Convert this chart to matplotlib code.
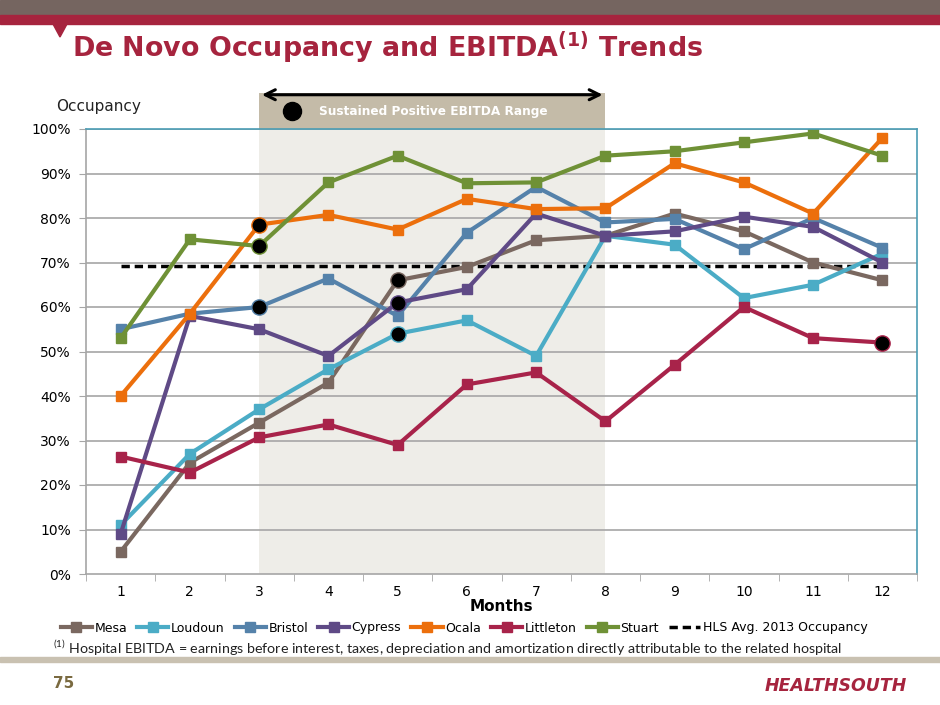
import matplotlib
matplotlib.use("Agg")
import matplotlib.pyplot as plt
from matplotlib.lines import Line2D
from matplotlib.patches import Rectangle, Polygon

months = ["1", "2", "3", "4", "5", "6", "7", "8", "9", "10", "11", "12"]

mesa = [5, 25, 34, 43, 66, 69, 75, 76, 81, 77, 70, 66]
loudoun = [11, 27, 37, 46, 54, 57, 49, 76, 74, 62, 65, 72]
bristol = [55, 58.5, 60, 66.4, 58, 76.7, 87, 79, 79.8, 73, 80, 73.3]
cypress = [9, 58, 55, 49, 61, 64, 81, 76, 77, 80.3, 78, 70]
ocala = [40, 58.5, 78.5, 80.7, 77.4, 84.3, 82, 82.2, 92.3, 88, 81, 98]
littleton = [26.4, 22.8, 30.7, 33.6, 29, 42.6, 45.3, 34.3, 47, 60, 53, 52]
stuart = [53, 75.2, 73.7, 88, 94, 87.8, 88, 94, 95, 97, 99, 94]
hls_avg = 69.3

series = [
    ("Mesa", mesa, "#7a6860"),
    ("Loudoun", loudoun, "#4bacc6"),
    ("Bristol", bristol, "#5582aa"),
    ("Cypress", cypress, "#5f4a86"),
    ("Ocala", ocala, "#ec6f0c"),
    ("Littleton", littleton, "#a8234a"),
    ("Stuart", stuart, "#6f9136"),
]

# month (1-based) where each hospital turned EBITDA positive
ebitda_start = {"Ocala": 3, "Stuart": 3, "Bristol": 3, "Mesa": 5,
                "Cypress": 5, "Loudoun": 5, "Littleton": 12}
range_start, range_end = 3, 8

fig = plt.figure(figsize=(9.4, 7.05), dpi=100)
plt.rcParams["font.family"] = ["DejaVu Sans"]

# slide decorations
fig.patches.append(Rectangle((0, 1 - 15 / 705), 1, 15 / 705, transform=fig.transFigure,
                             color="#756560", zorder=0))
fig.patches.append(Rectangle((0, 1 - 24 / 705), 1, 9 / 705, transform=fig.transFigure,
                             color="#a6243e", zorder=0))
fig.patches.append(Polygon([(53 / 940, 1 - 24 / 705), (67 / 940, 1 - 24 / 705),
                            (60 / 940, 1 - 37 / 705)], closed=True,
                           transform=fig.transFigure, color="#a6243e"))
fig.patches.append(Rectangle((0, 1 - 662 / 705), 1, 5 / 705, transform=fig.transFigure,
                             color="#c9c1b1", zorder=0))

fig.text(72 / 940, 1 - 48 / 705, r"De Novo Occupancy and EBITDA$^{\mathregular{(1)}}$ Trends",
         fontsize=19.4, fontweight="bold", color="#a6243e", va="center", ha="left")
fig.text(53 / 940, 1 - 684 / 705, "75", fontsize=11, color="#7a6a40",
         fontweight="bold", va="center")
fig.text(907 / 940, 1 - 686 / 705, "HEALTHSOUTH", fontsize=12.5, color="#a6243e",
         fontweight="heavy", style="italic", va="center", ha="right")
fig.text(56 / 940, 1 - 107 / 705, "Occupancy", fontsize=11, color="#222222", va="center")

ax = fig.add_axes([86 / 940, 1 - 574 / 705, 831 / 940, 445 / 705])
x = list(range(len(months)))

ax.axvspan(range_start - 1, range_end - 1, color="#eeede8", zorder=0, lw=0)

for yv in range(10, 101, 10):
    ax.axhline(yv, color="#a6a6a6", lw=1.2, zorder=1)

ax.plot([0, len(months) - 1], [hls_avg, hls_avg], color="black", lw=2.5,
        ls=(0, (2.4, 1.4)), zorder=2)

for name, vals, col in series:
    ax.plot(x, vals, color=col, lw=3, marker="s", markersize=7, zorder=3)
    m = ebitda_start[name] - 1
    ax.plot(x[m], vals[m], "o", color="black", markersize=11,
            markeredgecolor=col, markeredgewidth=1, zorder=4)

ax.set_xlim(-0.5, len(months) - 0.5)
ax.set_ylim(0, 100)
ax.set_yticks(range(0, 101, 10))
ax.set_yticklabels([f"{v}%" for v in range(0, 101, 10)], fontsize=10)
ax.set_xticks(x)
ax.set_xticklabels(months, fontsize=10)
ax.set_xticks([i - 0.5 for i in range(len(months) + 1)], minor=True)
ax.tick_params(axis="x", which="major", length=0, pad=8)
ax.tick_params(axis="x", which="minor", length=5, color="#a6a6a6", direction="out")
ax.tick_params(axis="y", length=5, color="#a6a6a6", pad=6)
ax.set_xlabel("Months", fontsize=11, fontweight="bold", labelpad=0)

for s in ["left", "bottom"]:
    ax.spines[s].set_color("#a6a6a6")
    ax.spines[s].set_linewidth(1.2)
for s in ["top", "right"]:
    ax.spines[s].set_color("#4a9cb4")
    ax.spines[s].set_linewidth(1.2)
ax.spines["top"].set_zorder(5)

# header box for sustained positive EBITDA range
ax.add_patch(Rectangle((range_start - 1, 100), range_end - range_start, 8.1,
                       color="#c4bba8", clip_on=False, zorder=1, lw=0))
ax.annotate("", xy=(range_end - 1, 107.7), xytext=(range_start - 1, 107.7),
            arrowprops=dict(arrowstyle="<->", color="black", lw=2.2,
                            mutation_scale=18), annotation_clip=False)
ax.plot(2.47, 104, "o", color="black", markersize=13, clip_on=False, zorder=6)
ax.text(2.86, 104, "Sustained Positive EBITDA Range", color="white", fontsize=8.7,
        fontweight="bold", va="center", ha="left", zorder=6)

handles = [Line2D([], [], color=c, lw=3, marker="s", markersize=7) for _, _, c in series]
labels = [n for n, _, _ in series]
handles.append(Line2D([], [], color="black", lw=2.5, ls=(0, (2.4, 1.4))))
labels.append("HLS Avg. 2013 Occupancy")
fig.legend(handles, labels, loc="center", bbox_to_anchor=(464 / 940, 1 - 628 / 705),
           ncol=8, frameon=False, fontsize=9, handlelength=2.5, handletextpad=0.2,
           columnspacing=0.8)

fig.text(53 / 940, 1 - 648 / 705,
         r"$^{\mathregular{(1)}}$ Hospital EBITDA = earnings before interest, taxes, depreciation "
         "and amortization directly attributable to the related hospital",
         fontsize=10.3, color="#222222", va="center", family=["Lato", "DejaVu Sans"])

fig.savefig("out.png", dpi=100)
